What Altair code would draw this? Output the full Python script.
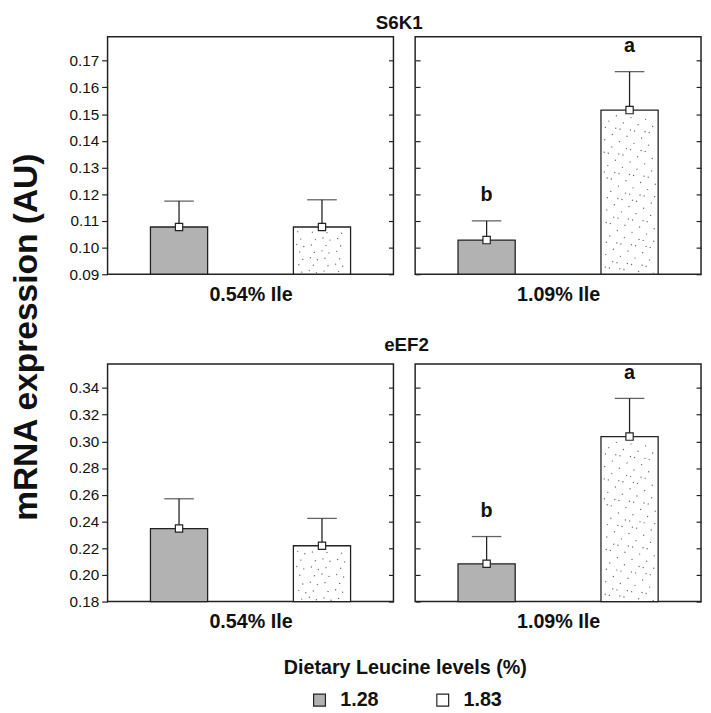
import altair as alt
import pandas as pd

# ---------------- data ----------------
ile_levels = ["0.54% Ile", "1.09% Ile"]
leu_levels = ["1.28", "1.83"]

# order: (0.54% Ile,1.28), (0.54% Ile,1.83), (1.09% Ile,1.28), (1.09% Ile,1.83)
s6k1_mean = [0.1077, 0.1077, 0.1028, 0.1515]
s6k1_se = [0.0097, 0.0102, 0.0072, 0.0144]
s6k1_letter = ["", "", "b", "a"]

eef2_mean = [0.2347, 0.2218, 0.2083, 0.3036]
eef2_se = [0.0223, 0.0205, 0.0204, 0.0286]
eef2_letter = ["", "", "b", "a"]

s6k1_ticks = [0.09, 0.10, 0.11, 0.12, 0.13, 0.14, 0.15, 0.16, 0.17]
eef2_ticks = [0.18, 0.20, 0.22, 0.24, 0.26, 0.28, 0.30, 0.32, 0.34]
s6k1_domain = [0.09, 0.179]
eef2_domain = [0.18, 0.358]

FONT = "Liberation Sans"
INK = "#222222"


def make_df(means, ses, letters):
    rows = []
    k = 0
    for ile in ile_levels:
        for j, leu in enumerate(leu_levels):
            rows.append({"ile": ile, "leu": leu, "idx": j, "mean": means[k], "se": ses[k],
                         "letter": letters[k]})
            k += 1
    return pd.DataFrame(rows)


def panel(df, ile, domain, ticks, first, ext):
    lo, hi = domain
    sub = df[df["ile"] == ile]
    base = alt.Chart(sub).transform_calculate(top="datum.mean + datum.se")
    xscale = alt.Scale(domain=leu_levels, paddingInner=0.6, paddingOuter=0.3)
    x_enc = alt.X(
        "leu:N",
        scale=xscale,
        axis=alt.Axis(title=ile, labels=False, ticks=True, tickSize=4, offset=-4, domain=False,
                      titlePadding=10, titleFontSize=20, titleFontWeight="bold", titleFont=FONT,
                      titleColor="#111"),
    )
    x_plain = alt.X("leu:N", scale=xscale, axis=None)
    yscale = alt.Scale(domain=[lo, hi], nice=False, zero=False)
    if first:
        left_axis = alt.Axis(title=None, values=ticks, format=".2f", tickSize=6, labelPadding=3,
                             domain=False, grid=False, labelFontSize=15.5, labelFont=FONT,
                             labelColor="#111", minExtent=ext)
    else:
        left_axis = alt.Axis(title=None, values=ticks, labels=False, tickSize=5, offset=-5,
                             domain=False, grid=False)
    right_axis = alt.Axis(title=None, values=ticks, labels=False, tickSize=5, offset=-5,
                          domain=False, grid=False, orient="right")

    bars = base.mark_bar(stroke=INK, strokeWidth=1.3).encode(
        x=x_enc,
        y=alt.Y("mean:Q", scale=yscale, axis=left_axis),
        y2=alt.datum(lo),
        color=alt.Color(
            "leu:N",
            scale=alt.Scale(domain=leu_levels, range=["#b2b2b2", "#ffffff"]),
            legend=alt.Legend(
                title="Dietary Leucine levels (%)", orient="none", legendX=179, legendY=631,
                direction="horizontal", titleFontSize=20, titleFontWeight="bold",
                titleFont=FONT, titleColor="#111", titleAnchor="middle", titlePadding=12,
                titleLimit=500, labelLimit=200,
                labelFontSize=20, labelFontWeight="bold", labelFont=FONT, labelColor="#111",
                symbolType="square", symbolSize=144, symbolStrokeColor=INK,
                symbolStrokeWidth=1.2, columnPadding=55, labelOffset=11,
            ),
        ),
    )
    # stipple texture of the 1.83 bars (decoration, quasi-regular pattern)
    frac = f"(datum.mean - {lo}) / ({hi} - {lo})"
    dots = (
        base.transform_filter("datum.leu == '1.83'")
        .transform_calculate(seq="sequence(0, 170)")
        .transform_flatten(["seq"])
        .transform_filter(f"datum.seq < 170 * {frac}")
        .transform_calculate(
            u="(0.5 + datum.seq * 0.7548776662) % 1",
            v="(0.5 + datum.seq * 0.5698402910) % 1",
        )
        .transform_calculate(
            xdot="datum.idx + 0.32 + 0.36 * datum.u",
            ydot=f"{lo} + 0.002 * ({hi} - {lo}) + datum.v * (datum.mean - {lo}) * 0.97",
        )
        .mark_circle(size=2, color="#6a6a6a", opacity=1)
        .encode(
            x=alt.X("xdot:Q", scale=alt.Scale(domain=[0, 2], nice=False, zero=False), axis=None),
            y=alt.Y("ydot:Q", axis=None),
        )
    )
    rule = base.mark_rule(color=INK, strokeWidth=1.3).encode(
        x=x_plain, y=alt.Y("mean:Q", axis=right_axis), y2="top:Q"
    )
    cap = base.mark_tick(size=30, thickness=1.3, color=INK).encode(
        x=x_plain, y=alt.Y("top:Q", axis=None)
    )
    square = base.mark_point(shape="square", size=55, filled=True, fill="white", stroke=INK,
                             strokeWidth=1.2, opacity=1).encode(
        x=x_plain, y=alt.Y("mean:Q", axis=None)
    )
    text = base.transform_filter("datum.letter != ''").mark_text(
        baseline="bottom", dy=-16, fontSize=20, fontWeight="bold", font=FONT, color="#111"
    ).encode(x=x_plain, y=alt.Y("top:Q", axis=None), text="letter:N")

    return (
        alt.layer(bars, dots, rule, cap, square, text)
        .resolve_scale(y="shared", x="independent")
        .resolve_axis(y="independent")
        .properties(width=290, height=241)
    )


def row(df, title, domain, ticks, ext, dx, toff):
    left = panel(df, ile_levels[0], domain, ticks, True, ext)
    right = panel(df, ile_levels[1], domain, ticks, False, ext)
    return alt.hconcat(left, right, spacing=18).properties(
        title=alt.TitleParams(title, fontSize=19, fontWeight="bold", font=FONT, color="#111",
                              anchor="middle", offset=toff, dx=dx)
    ).resolve_scale(color="shared").resolve_legend(color="shared")


s6k1_df = make_df(s6k1_mean, s6k1_se, s6k1_letter)
eef2_df = make_df(eef2_mean, eef2_se, eef2_letter)

chart = (
    alt.vconcat(
        row(s6k1_df, "S6K1", s6k1_domain, s6k1_ticks, 43, 16, 3),
        row(eef2_df, "eEF2", eef2_domain, eef2_ticks, 50, 27, 7),
        spacing=31,
    )
    .resolve_scale(color="shared")
    .resolve_legend(color="shared")
    .properties(
        title=alt.TitleParams("mRNA expression (AU)", orient="left", anchor="middle", fontSize=34,
                              fontWeight="bold", font=FONT, color="#111", offset=14, dx=25),
        padding={"left": 2, "top": 0, "right": 0, "bottom": 0},
    )
    .configure_view(stroke=INK, strokeWidth=1.5)
    .configure_axis(tickColor=INK, tickWidth=1.2)
)

chart.save("out.html", embed_options={"renderer": "svg", "actions": False})
